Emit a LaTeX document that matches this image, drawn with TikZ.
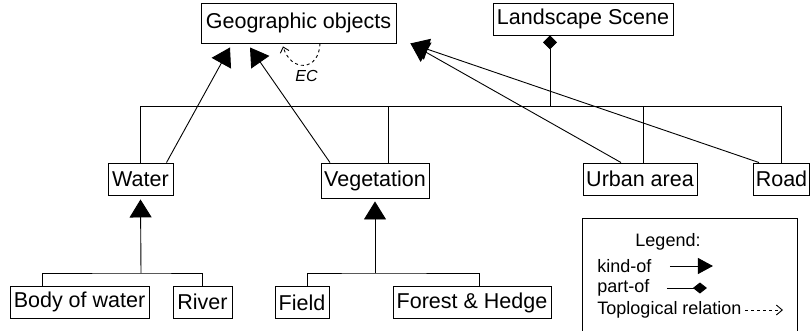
\documentclass[tikz,border=0pt]{standalone}
\usepackage{fontspec}
\setmainfont{Liberation Sans}
\usetikzlibrary{arrows.meta, positioning, calc}

\begin{document}
\begin{tikzpicture}[x=1pt, y=-1pt, line width=0.9pt,
    font=\fontsize{21.5}{25}\selectfont,
    box/.style={draw, rectangle, inner xsep=2pt, inner ysep=0pt, minimum height=32pt},
    kindof/.style={-{Triangle[length=18pt, width=22pt]}},
    partof/.style={-{Diamond[length=14pt, width=14pt]}},
    topo/.style={dashed, -{Straight Barb[length=5pt, width=9pt]}},
    legtext/.style={font=\fontsize{18}{21}\selectfont, inner sep=0pt}]
    \useasboundingbox (0,0) rectangle (810,331);

    % Top level
    \node[box, minimum width=195pt, minimum height=40pt] (geo) at (298.5,23) {Geographic objects};
    \node[box, minimum width=180pt] (scene) at (583,19) {Landscape Scene};

    % Second level
    \node[box, minimum width=65pt] (water) at (140.5,179) {Water};
    \node[box, minimum width=108pt, minimum height=35pt] (veg) at (375,180.5) {Vegetation};
    \node[box, minimum width=114pt] (urban) at (640,179) {Urban area};
    \node[box, minimum width=55pt] (road) at (781.5,179) {Road};

    % Third level
    \node[box, minimum width=139pt] (body) at (79.5,302) {Body of water};
    \node[box, minimum width=59pt] (river) at (202.5,302) {River};
    \node[box, minimum width=54pt] (field) at (302,302.5) {Field};
    \node[box, minimum width=158pt] (forest) at (472,302.5) {Forest \& Hedge};

    % Part-of tree under the scene
    \coordinate (hub) at (550,106);
    \draw[partof] (hub) -- (hub |- scene.south);
    \draw (water.north) |- (road.north |- hub) -- (road.north);
    \draw ([xshift=13pt]veg.north) -- ([xshift=13pt]veg.north |- hub);
    \draw ([xshift=3pt]urban.north) -- ([xshift=3pt]urban.north |- hub);

    % Kind-of arrows to the geographic objects
    \coordinate (geotip) at ([xshift=14pt]geo.south east);
    \draw[kindof] ([xshift=26pt]water.north) -- ([xshift=-68.5pt, yshift=-4pt]geo.south);
    \draw[kindof] ([xshift=-45pt]veg.north) -- ([xshift=-48.5pt, yshift=-4pt]geo.south);
    \draw[kindof] ([xshift=-19pt]urban.north) -- (geotip);
    \draw[kindof] ([xshift=-22.5pt]road.north) -- (geotip);

    % Lower kind-of trees
    \coordinate (wj) at (141,273);
    \coordinate (vj) at (375,273);
    \draw[kindof] (wj) -- ([yshift=-4pt]water.south);
    \draw ([xshift=-37.5pt]body.north) |- (wj) -| (river.north);
    \draw[kindof] (vj) -- ([yshift=-3pt]veg.south);
    \draw ([xshift=5pt]field.north) |- (vj) -| ([xshift=7pt]forest.north);

    % Topological relation
    \draw[topo] ([xshift=21.5pt]geo.south) .. controls +(-1,28) and +(8,26) .. ([xshift=-15.5pt, yshift=-3pt]geo.south);
    \node[font=\fontsize{16}{18}\selectfont\itshape] (ec) at (306.5,76) {EC};

    % Legend
    \node[draw, anchor=north west, minimum width=215pt, minimum height=120pt] (legend) at (582,218) {};
    \node[legtext] (legtitle) at (668,242) {Legend:};
    \node[legtext, anchor=west] (lkind) at (597,266) {kind-of};
    \node[legtext, anchor=west] (lpart) at (597,288) {part-of};
    \node[legtext, anchor=west] (ltopo) at (597,310) {Toplogical relation};
    \draw[-{Triangle[length=15pt, width=16pt]}] (lkind.east) ++(18,0) -- ++(43,0);
    \draw[-{Diamond[length=14pt, width=11pt]}] (lpart.east) ++(17,0) -- ++(40,0);
    \draw[dashed, -{Straight Barb[length=6pt, width=10pt]}] (ltopo.east) ++(3,0) -- ++(38,0);
\end{tikzpicture}
\end{document}
